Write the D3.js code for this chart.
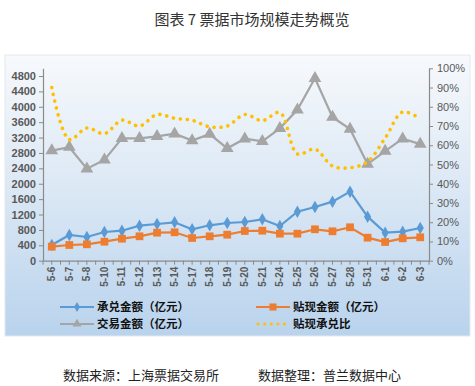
<!DOCTYPE html>
<html><head><meta charset="utf-8">
<script src="https://cdn.jsdelivr.net/npm/d3@7"></script>
<style>body{margin:0;background:#fff}svg{display:block}</style>
</head><body><svg id="c" width="475" height="386"></svg>
<script>
const categories=["5-6","5-7","5-8","5-10","5-11","5-12","5-13","5-14","5-17","5-18","5-19","5-20","5-21","5-24","5-25","5-26","5-27","5-28","5-31","6-1","6-2","6-3"];
const acceptance=[408,668,616,746,780,910,954,998,816,920,980,1006,1076,902,1274,1396,1534,1794,1144,728,754,850];
const discount=[364,408,426,494,572,634,728,738,590,634,676,772,780,702,702,816,764,868,598,486,582,608];
const trading=[2860,2950,2390,2620,3180,3180,3230,3300,3120,3290,2920,3170,3100,3440,3920,4740,3730,3420,2510,2850,3170,3030];
const ratio=[90,63,69,66,73,70,76,74,73,69.6,70,76,72.8,77,55.5,58,49.2,48.3,51.5,63.7,77.3,73.7];
const leftTicks=[0,400,800,1200,1600,2000,2400,2800,3200,3600,4000,4400,4800];
const rightTicks=[0,10,20,30,40,50,60,70,80,90,100];
const seriesNames=["承兑金额（亿元）","贴现金额（亿元）","交易金额（亿元）","贴现承兑比"];

const svg=d3.select("#c");
const defs=svg.append("defs");
const g=defs.append("linearGradient").attr("id","bg").attr("x1",0).attr("y1",0).attr("x2",0).attr("y2",1);
g.append("stop").attr("offset","0%").attr("stop-color","#f7f9fc");
g.append("stop").attr("offset","45%").attr("stop-color","#dde9f5");
g.append("stop").attr("offset","100%").attr("stop-color","#b9d3ed");
svg.append("rect").attr("x",5).attr("y",55).attr("width",465).attr("height",281).attr("fill","url(#bg)").attr("stroke","#e3e8ee").attr("stroke-width",1);

svg.append("text").attr("x",252).attr("y",25).attr("text-anchor","middle").attr("font-family","Noto Sans CJK SC").attr("font-size",15).attr("fill","#333").text("图表 7  票据市场规模走势概览");

const L=43,R=429,T=68.3,B=260.7;
const x=d3.scaleBand().domain(categories).range([L,R]);
const yL=d3.scaleLinear().domain([0,5000]).range([B,T]);
const yR=d3.scaleLinear().domain([0,100]).range([B,T]);
const cx=d=>x(d)+x.bandwidth()/2;
const axisCol="#8a8a8a", labCol="#595959";

const la=svg.append("g").attr("transform",`translate(${L},0)`).call(d3.axisLeft(yL).tickValues(leftTicks).tickFormat(d3.format("d")).tickSize(4).tickSizeOuter(0).tickPadding(3));
la.select(".domain").attr("stroke",axisCol).attr("stroke-width",1.2);
la.selectAll("line").attr("stroke",axisCol);
la.selectAll("text").attr("font-family","Liberation Sans, Arial").attr("font-weight","bold").attr("font-size",11).attr("fill",labCol);
const ra=svg.append("g").attr("transform",`translate(${R},0)`).call(d3.axisRight(yR).tickValues(rightTicks).tickFormat(d=>d+"%").tickSize(4).tickSizeOuter(0).tickPadding(4));
ra.select(".domain").attr("stroke",axisCol).attr("stroke-width",1.2);
ra.selectAll("line").attr("stroke",axisCol);
ra.selectAll("text").attr("font-family","Liberation Sans, Arial").attr("font-size",11).attr("fill",labCol);
const ba=svg.append("g").attr("transform",`translate(0,${B})`).call(d3.axisBottom(x).tickSize(0).tickPadding(0));
ba.select(".domain").attr("stroke",axisCol).attr("stroke-width",1.2);
ba.selectAll("text").attr("font-family","Liberation Sans, Arial").attr("font-weight","bold").attr("font-size",10).attr("fill",labCol)
  .attr("transform","rotate(-90)").attr("text-anchor","end").attr("dy","0.35em").attr("x",-6).attr("y",0);
const tickPos=[];
categories.forEach(c=>{tickPos.push(x(c));tickPos.push(cx(c));});
tickPos.push(R);
svg.append("g").selectAll("line").data(tickPos).join("line").attr("x1",d=>d).attr("x2",d=>d).attr("y1",B).attr("y2",B+4).attr("stroke",axisCol);

const lineL=d3.line().x((d,i)=>cx(categories[i])).y(d=>yL(d));
const lineR=d3.line().x((d,i)=>cx(categories[i])).y(d=>yR(d)).curve(d3.curveCatmullRom.alpha(0.5));

const colors={blue:"#5b9bd5",orange:"#ed7d31",gray:"#a5a5a5",yellow:"#ffc000"};
function drawSeries(data,color,shape,size){
  svg.append("path").datum(data).attr("d",lineL).attr("fill","none").attr("stroke",color).attr("stroke-width",2.2);
  svg.append("g").selectAll("path").data(data).join("path")
    .attr("transform",(d,i)=>`translate(${cx(categories[i])},${yL(d)})`)
    .attr("d",d3.symbol().type(shape).size(size)).attr("fill",color);
}
drawSeries(trading,colors.gray,d3.symbolTriangle,70);
svg.append("path").datum(ratio).attr("d",lineR).attr("fill","none").attr("stroke",colors.yellow).attr("stroke-width",3.6).attr("stroke-linecap","round").attr("stroke-dasharray","0.1 6.9");
drawSeries(acceptance,colors.blue,d3.symbolDiamond,45);
drawSeries(discount,colors.orange,d3.symbolSquare,60);

const leg=[{n:seriesNames[0],c:colors.blue,s:d3.symbolDiamond,sz:30,x:60,y:307},
  {n:seriesNames[1],c:colors.orange,s:d3.symbolSquare,sz:50,x:256,y:307},
  {n:seriesNames[2],c:colors.gray,s:d3.symbolTriangle,sz:35,x:60,y:324},
  {n:seriesNames[3],c:colors.yellow,s:null,x:256,y:324}];
leg.forEach(o=>{
  const gg=svg.append("g");
  if(o.s){
    gg.append("line").attr("x1",o.x).attr("x2",o.x+34).attr("y1",o.y).attr("y2",o.y).attr("stroke",o.c).attr("stroke-width",2);
    gg.append("path").attr("transform",`translate(${o.x+17},${o.y})`).attr("d",d3.symbol().type(o.s).size(o.sz)).attr("fill",o.c);
  } else {
    gg.append("line").attr("x1",o.x+2).attr("x2",o.x+34).attr("y1",o.y).attr("y2",o.y).attr("stroke",o.c).attr("stroke-width",3).attr("stroke-linecap","round").attr("stroke-dasharray","0.1 6.5");
  }
  gg.append("text").attr("x",o.x+37).attr("y",o.y).attr("dy","0.36em").attr("font-family","Noto Sans CJK SC").attr("font-weight","bold").attr("font-size",11.5).attr("fill","#111").text(o.n);
});

svg.append("text").attr("x",63).attr("y",380).attr("font-family","Noto Sans CJK SC").attr("font-size",13).attr("fill","#222").text("数据来源：上海票据交易所");
svg.append("text").attr("x",258).attr("y",380).attr("font-family","Noto Sans CJK SC").attr("font-size",13).attr("fill","#222").text("数据整理：普兰数据中心");
</script></body></html>
